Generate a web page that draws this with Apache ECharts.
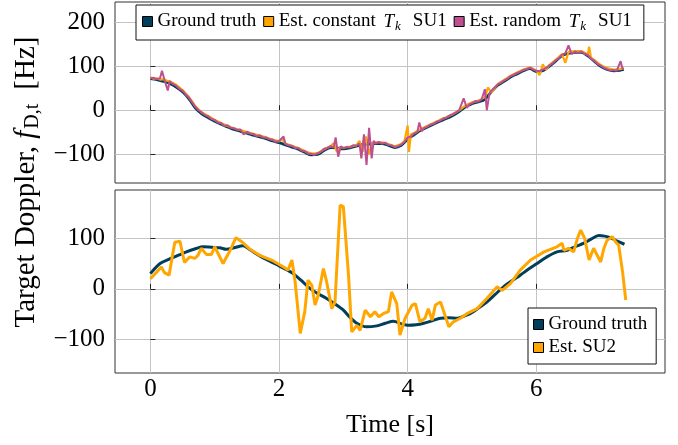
<!DOCTYPE html>
<html><head><meta charset="utf-8">
<script src="https://cdn.jsdelivr.net/npm/echarts@6/dist/echarts.min.js"></script>
<style>html,body{margin:0;padding:0;background:#fff}#c{width:678px;height:445px}</style>
</head><body><div id="c"></div>
<script>
// ---------- tick labels ----------
const xTicks = [0, 2, 4, 6];
const yTicksTop = [-100, 0, 100, 200];
const yTicksBot = [-100, 0, 100];

// ---------- top panel (SU1) ----------
const topGtT = [0,0.1,0.2,0.3,0.4,0.5,0.6,0.7,0.8,0.9,1.0,1.1,1.2,1.3,1.4,1.5,1.6,1.7,1.8,1.9,2.0,2.1,2.2,2.3,2.4,2.5,2.6,2.7,2.8,2.9,3.0,3.1,3.2,3.3,3.4,3.5,3.6,3.7,3.8,3.9,4.0,4.1,4.2,4.3,4.4,4.5,4.6,4.7,4.8,4.9,5.0,5.1,5.2,5.3,5.4,5.5,5.6,5.7,5.8,5.9,6.0,6.1,6.2,6.3,6.4,6.5,6.6,6.7,6.8,6.9,7.0,7.1,7.2,7.3,7.36];
const topGtV = [72,70,66,61,53,42,26,5,-8,-17,-25,-32,-38,-44,-48,-52,-57,-61,-65,-70,-74,-79,-84,-89,-96,-102,-101,-92,-85,-86,-88,-86,-82,-78,-77,-76,-76,-80,-85,-80,-66,-56,-46,-39,-32,-25,-19,-12,-3,8,15,19,25,42,57,66,76,83,90,95,88,90,100,112,125,130,132,132,124,112,100,93,90,91,93];

const topConstT = [0,0.05,0.1,0.15,0.2,0.25,0.3,0.35,0.4,0.45,0.5,0.55,0.6,0.65,0.7,0.8,0.9,1.0,1.1,1.2,1.3,1.4,1.5,1.6,1.7,1.8,1.9,2.0,2.05,2.1,2.2,2.3,2.4,2.5,2.6,2.7,2.8,2.85,2.9,2.95,3.0,3.1,3.2,3.25,3.3,3.35,3.4,3.45,3.5,3.6,3.7,3.8,3.9,3.95,4.0,4.02,4.05,4.1,4.2,4.3,4.4,4.5,4.6,4.7,4.8,4.9,5.0,5.1,5.2,5.25,5.3,5.4,5.5,5.6,5.7,5.8,5.9,6.0,6.05,6.1,6.15,6.2,6.3,6.4,6.45,6.5,6.6,6.7,6.8,6.82,6.85,6.9,7.0,7.1,7.2,7.3,7.36];
const topConstV = [75,72,73,70,71,68,66,62,58,52,46,38,30,20,9,-5,-13,-22,-29,-36,-41,-45,-50,-54,-58,-62,-67,-71,-66,-76,-81,-86,-93,-99,-98,-89,-82,-75,-95,-84,-85,-83,-80,-70,-95,-60,-100,-75,-73,-73,-77,-82,-77,-70,-35,-95,-55,-52,-43,-36,-29,-22,-16,-9,0,11,18,22,30,52,40,60,69,79,86,93,98,91,80,105,92,103,115,128,108,133,135,135,127,145,120,115,103,96,93,94,96];

const topRandT = [0,0.05,0.1,0.15,0.18,0.22,0.27,0.3,0.35,0.4,0.45,0.5,0.55,0.6,0.65,0.7,0.75,0.8,0.85,0.9,0.95,1.0,1.05,1.1,1.15,1.2,1.25,1.3,1.35,1.4,1.45,1.5,1.55,1.6,1.65,1.7,1.75,1.8,1.85,1.9,1.95,2.0,2.07,2.1,2.15,2.2,2.25,2.3,2.35,2.4,2.45,2.5,2.55,2.6,2.65,2.7,2.75,2.8,2.85,2.88,2.92,2.96,3.0,3.05,3.1,3.15,3.2,3.25,3.28,3.32,3.36,3.4,3.44,3.47,3.5,3.55,3.6,3.65,3.7,3.75,3.8,3.85,3.9,3.95,4.0,4.05,4.1,4.15,4.18,4.22,4.25,4.3,4.35,4.4,4.45,4.5,4.55,4.6,4.65,4.7,4.75,4.8,4.87,4.92,4.96,5.0,5.05,5.1,5.15,5.2,5.23,5.27,5.3,5.35,5.4,5.45,5.5,5.55,5.6,5.65,5.7,5.75,5.8,5.85,5.9,5.95,6.0,6.05,6.1,6.15,6.2,6.25,6.3,6.35,6.4,6.45,6.5,6.55,6.6,6.65,6.7,6.75,6.8,6.85,6.9,6.95,7.0,7.05,7.1,7.15,7.2,7.25,7.28,7.31,7.34,7.36];
const topRandV = [73,74,71,73,90,69,45,66,60,56,49,45,36,29,18,8,0,-5,-11,-14,-20,-22,-28,-29,-36,-34,-40,-41,-45,-44,-55,-49,-53,-54,-59,-57,-62,-62,-66,-67,-72,-70,-60,-77,-80,-81,-86,-86,-92,-93,-99,-99,-102,-98,-95,-88,-86,-82,-85,-62,-106,-82,-87,-84,-85,-80,-81,-76,-110,-55,-125,-40,-110,-70,-76,-72,-76,-74,-79,-80,-84,-82,-78,-72,-62,-60,-53,-50,-28,-48,-41,-38,-33,-31,-26,-24,-19,-17,-12,-9,-5,0,27,5,14,16,21,20,25,48,0,38,44,52,59,63,68,72,78,81,85,88,92,94,97,93,90,89,93,96,102,107,114,119,127,130,148,128,134,131,134,129,126,118,113,106,102,97,94,91,92,90,93,112,94,95];

// ---------- bottom panel (SU2) ----------
const botGtT = [0,0.15,0.3,0.45,0.56,0.7,0.82,0.95,1.08,1.18,1.3,1.44,1.55,1.7,1.85,1.96,2.1,2.22,2.35,2.48,2.6,2.74,2.87,3.0,3.1,3.21,3.36,3.52,3.65,3.78,3.9,4.01,4.13,4.25,4.38,4.51,4.64,4.77,4.87,4.97,5.1,5.23,5.36,5.49,5.62,5.75,5.88,6.01,6.15,6.32,6.48,6.6,6.74,6.85,6.97,7.06,7.15,7.26,7.37];
const botGtV = [30,50,59,67,73,79,83,82,81,78,81,85,77,65,55,48,39,30,16,1,-9,-19,-30,-42,-56,-68,-75,-73,-68,-64,-69,-72,-71,-68,-63,-58,-57,-58,-54,-49,-38,-26,-11,4,16,27,39,50,62,73,76,83,90,98,105,104,101,94,88];

const botEstT = [0,0.09,0.17,0.22,0.29,0.38,0.46,0.53,0.61,0.69,0.74,0.79,0.87,0.95,1.0,1.13,1.24,1.33,1.42,1.55,1.7,1.91,2.07,2.14,2.2,2.25,2.33,2.4,2.45,2.51,2.56,2.61,2.69,2.74,2.82,2.87,2.95,3.0,3.08,3.13,3.21,3.26,3.34,3.42,3.49,3.55,3.62,3.7,3.75,3.83,3.88,3.96,4.07,4.12,4.19,4.27,4.32,4.38,4.43,4.51,4.58,4.64,4.71,4.82,4.92,5.08,5.23,5.39,5.47,5.6,5.75,5.91,6.12,6.32,6.4,6.43,6.5,6.58,6.64,6.69,6.75,6.82,6.89,7.0,7.05,7.1,7.18,7.23,7.28,7.34,7.39];
const botEstV = [20,32,43,32,27,92,94,52,63,60,66,80,68,68,83,50,76,101,93,78,66,55,43,37,57,14,-88,-45,17,7,-32,-12,40,14,-39,-26,165,162,27,-85,-72,-82,-42,-55,-45,-55,-49,-45,-6,-29,-91,-58,-32,-29,-65,-58,-39,-62,-32,-26,-52,-75,-65,-58,-49,-39,-19,4,-3,11,37,57,73,83,90,76,80,73,100,116,100,57,80,53,80,96,103,93,86,34,-22];

// ---------- names & colours ----------
const C_GT = '#003f5c', C_OR = '#ffa600', C_PU = '#bc5090';
const FONT = 'Liberation Serif';
const nGT = 'Ground truth', nConst = 'Est. constant Tk SU1', nRand = 'Est. random Tk SU1', nSU2 = 'Est. SU2';
const legendFmt = {};
legendFmt[nGT] = '{n|Ground truth}';
legendFmt[nConst] = '{n|Est. constant }{i|T}{s|k}{g|SU1}';
legendFmt[nRand] = '{n|Est. random }{i|T}{s|k}{g|SU1}';
legendFmt[nSU2] = '{n|Est. SU2}';

function zip(t, v) { return t.map((x, i) => [x, v[i]]); }

const legRich = {
  n: {fontFamily: FONT, fontSize: 19, color: '#000'},
  i: {fontFamily: FONT, fontSize: 19, fontStyle: 'italic', color: '#000', padding: [0, 0, 0, 3]},
  s: {fontFamily: FONT, fontSize: 13, fontStyle: 'italic', color: '#000', padding: [10, 0, 0, 1]},
  g: {fontFamily: FONT, fontSize: 19, color: '#000', padding: [0, 0, 0, 12]}
};

const gridLine = {show: true, lineStyle: {color: '#c4c4c4', width: 1}};
const tick = {show: true, inside: true, length: 5, lineStyle: {color: '#222', width: 1}};

function xAx(gi, showLabel) {
  return {
    type: 'value', gridIndex: gi, min: -0.55, max: 8.0,
    axisLine: {show: false},
    axisTick: Object.assign({customValues: xTicks}, tick),
    axisLabel: {show: showLabel, customValues: xTicks, fontFamily: FONT, fontSize: 25, color: '#000', margin: 4},
    splitLine: gridLine,
    name: showLabel ? 'Time [s]' : '', nameLocation: 'middle', nameGap: 39,
    nameTextStyle: {fontFamily: FONT, fontSize: 26, color: '#000'}
  };
}
function yAx(gi, mn, mx, ticks) {
  return {
    type: 'value', gridIndex: gi, min: mn, max: mx,
    axisLine: {show: false},
    axisTick: Object.assign({customValues: ticks}, tick),
    axisLabel: {customValues: ticks, fontFamily: FONT, fontSize: 25, color: '#000', margin: 10,
      formatter: v => (v < 0 ? '\u2212' + (-v) : '' + v)},
    splitLine: gridLine
  };
}

const chart = echarts.init(document.getElementById('c'), null, {renderer: 'canvas'});
chart.setOption({
  animation: false,
  backgroundColor: '#fff',
  grid: [
    {left: 115, right: 13, top: 2, height: 181, show: true, borderColor: '#333', borderWidth: 1, backgroundColor: 'transparent'},
    {left: 115, right: 13, top: 190, height: 183, show: true, borderColor: '#333', borderWidth: 1, backgroundColor: 'transparent'}
  ],
  xAxis: [xAx(0, false), xAx(1, true)],
  yAxis: [yAx(0, -166, 247, yTicksTop), yAx(1, -166, 195, yTicksBot)],
  legend: [
    {
      data: [nGT, nConst, nRand], left: 136, top: 5, orient: 'horizontal',
      icon: 'rect', itemWidth: 10, itemHeight: 10, itemGap: 7,
      padding: [7, 12, 7, 6], backgroundColor: '#fff', borderColor: '#111', borderWidth: 1,
      itemStyle: {borderColor: '#000', borderWidth: 1},
      formatter: n => legendFmt[n], textStyle: {fontFamily: FONT, fontSize: 19, color: '#000', rich: legRich},
      selectedMode: false
    },
    {
      data: [nGT, nSU2], left: 528, top: 308, orient: 'vertical',
      icon: 'rect', itemWidth: 10, itemHeight: 10, itemGap: 4,
      padding: [7, 9, 7, 5], backgroundColor: '#fff', borderColor: '#111', borderWidth: 1,
      itemStyle: {borderColor: '#000', borderWidth: 1},
      formatter: n => legendFmt[n], textStyle: {fontFamily: FONT, fontSize: 19, color: '#000', rich: legRich},
      selectedMode: false
    }
  ],
  series: [
    {name: nGT, type: 'line', xAxisIndex: 0, yAxisIndex: 0, data: zip(topGtT, topGtV), showSymbol: false, smooth: 0.3,
      itemStyle: {color: C_GT}, lineStyle: {color: C_GT, width: 2.8}},
    {name: nConst, type: 'line', xAxisIndex: 0, yAxisIndex: 0, data: zip(topConstT, topConstV), showSymbol: false,
      itemStyle: {color: C_OR}, lineStyle: {color: C_OR, width: 2.2}},
    {name: nRand, type: 'line', xAxisIndex: 0, yAxisIndex: 0, data: zip(topRandT, topRandV), showSymbol: false,
      itemStyle: {color: C_PU}, lineStyle: {color: C_PU, width: 2}},
    {name: nGT, type: 'line', xAxisIndex: 1, yAxisIndex: 1, data: zip(botGtT, botGtV), showSymbol: false, smooth: 0.3,
      itemStyle: {color: C_GT}, lineStyle: {color: C_GT, width: 3}},
    {name: nSU2, type: 'line', xAxisIndex: 1, yAxisIndex: 1, data: zip(botEstT, botEstV), showSymbol: false,
      itemStyle: {color: C_OR}, lineStyle: {color: C_OR, width: 3}}
  ],
  graphic: [{
    type: 'text', x: 26, y: 182, rotation: Math.PI / 2,
    style: {
      text: '{t|Target Doppler, }{f|f}{s|D,t}{h|[Hz]}',
      align: 'center', verticalAlign: 'middle',
      rich: {
        t: {fontFamily: FONT, fontSize: 29, color: '#000'},
        h: {fontFamily: FONT, fontSize: 29, color: '#000', padding: [0, 0, 0, 14]},
        f: {fontFamily: FONT, fontSize: 29, fontStyle: 'italic', color: '#000'},
        s: {fontFamily: FONT, fontSize: 20, color: '#000', padding: [13, 0, 0, 2]}
      }
    }
  }]
});
</script></body></html>
